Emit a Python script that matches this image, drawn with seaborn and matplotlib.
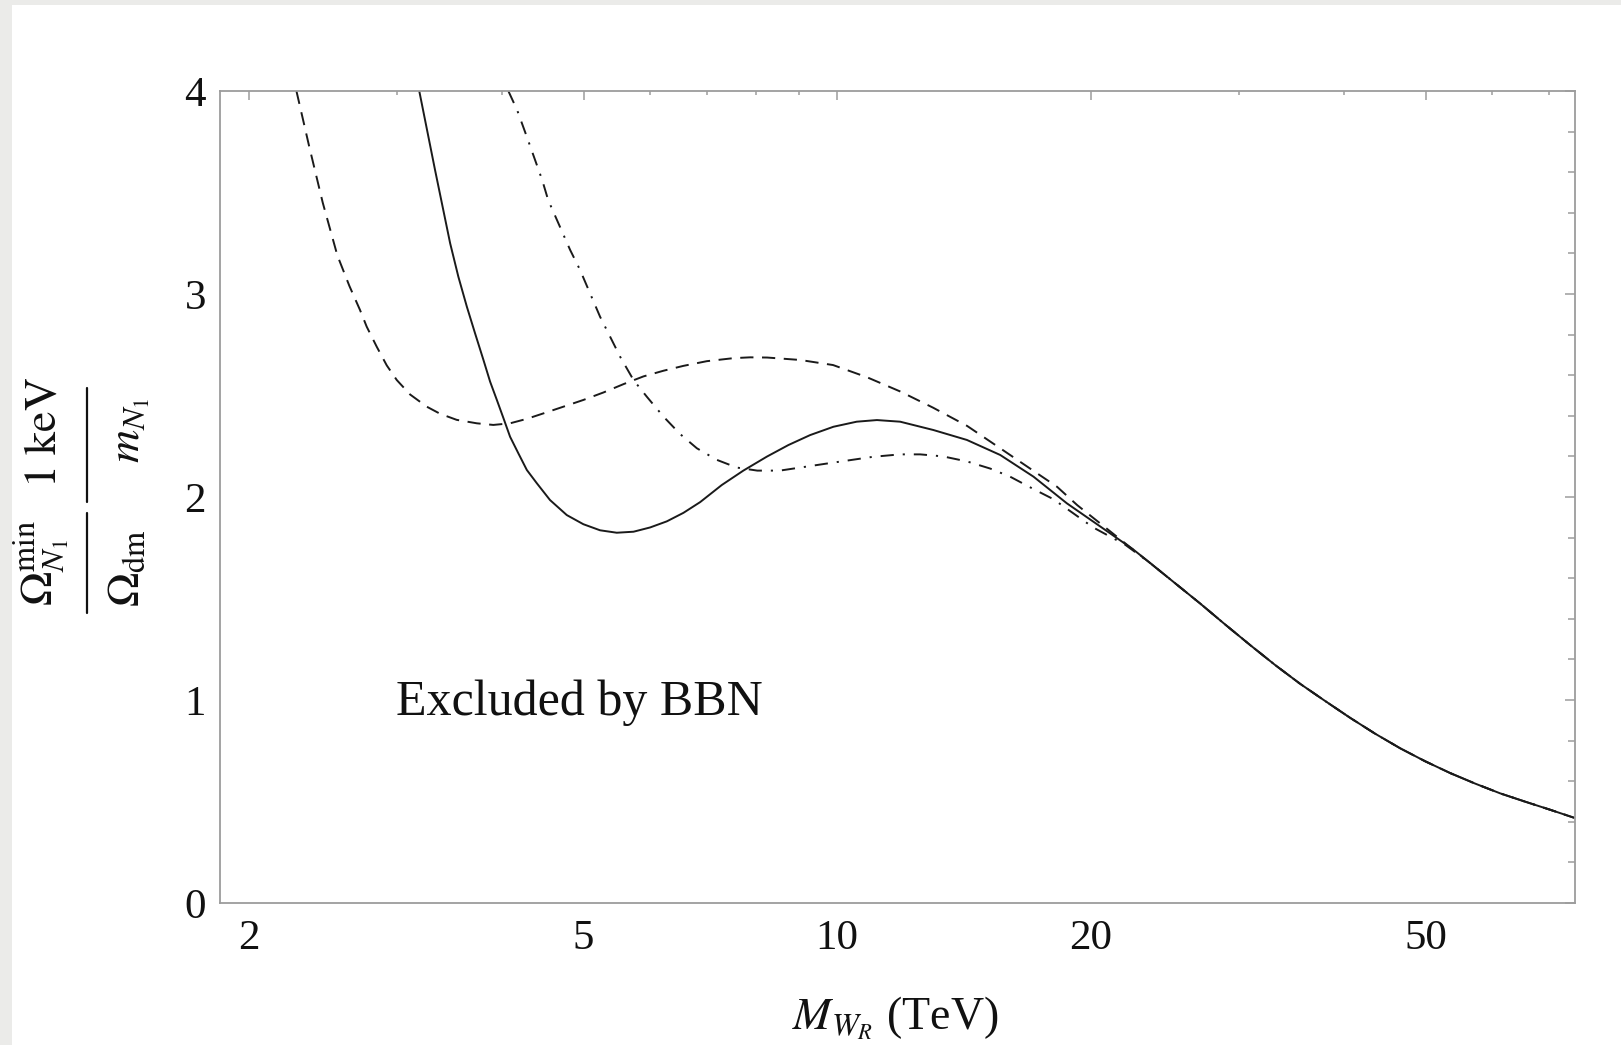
import numpy as np
import pandas as pd
import matplotlib
matplotlib.use("Agg")
import matplotlib.pyplot as plt
from matplotlib.patches import Rectangle
from matplotlib.lines import Line2D
from matplotlib.ticker import FixedLocator, NullFormatter, FixedFormatter
import seaborn as sns

# ---- data ----
solid_x = [3.19, 3.331, 3.471, 3.550, 3.633, 3.716, 3.802, 3.872, 3.944, 4.016, 4.089,
           4.183, 4.281, 4.399, 4.561, 4.775, 4.996, 5.230, 5.474, 5.731, 5.997, 6.277,
           6.569, 6.877, 7.295, 7.738, 8.253, 8.753, 9.288, 9.899, 10.55, 11.15, 11.88,
           13.01, 14.26, 15.62, 17.11, 18.74, 20.53, 22.48]
solid_y = [4.00, 3.61, 3.25, 3.085, 2.938, 2.806, 2.675, 2.568, 2.478, 2.388, 2.297,
           2.215, 2.133, 2.068, 1.985, 1.911, 1.866, 1.836, 1.824, 1.829, 1.850, 1.880,
           1.922, 1.975, 2.059, 2.130, 2.199, 2.256, 2.305, 2.346, 2.371, 2.379, 2.371,
           2.330, 2.281, 2.207, 2.100, 1.969, 1.855, 1.741]

dashed_x = [2.28, 2.36, 2.45, 2.55, 2.635, 2.713, 2.763, 2.840, 2.919, 3.000, 3.111,
            3.256, 3.377, 3.534, 3.734, 3.906, 4.089, 4.281, 4.480, 4.732, 4.996, 5.279,
            5.576, 5.888, 6.220, 6.569, 7.001, 7.533, 7.883, 8.26, 9.04, 9.89, 10.85,
            11.88, 13.0, 14.27, 15.62, 17.09, 18.25, 19.28, 20.53, 21.98]
dashed_y = [4.00, 3.73, 3.45, 3.19, 3.04, 2.921, 2.839, 2.740, 2.648, 2.576, 2.505,
            2.445, 2.410, 2.380, 2.363, 2.355, 2.363, 2.385, 2.412, 2.445, 2.478, 2.515,
            2.556, 2.594, 2.622, 2.646, 2.669, 2.684, 2.688, 2.687, 2.675, 2.65, 2.59,
            2.52, 2.44, 2.35, 2.24, 2.13, 2.05, 1.96, 1.87, 1.772]

dashdot_x = [4.07, 4.169, 4.282, 4.464, 4.538, 4.819, 4.952, 5.089, 5.230, 5.375, 5.525,
             5.731, 5.943, 6.220, 6.510, 6.815, 7.197, 7.601, 8.04, 8.55, 9.73, 11.03,
             11.88, 12.55, 13.36, 14.27, 15.2, 16.05, 17.09, 18.05, 19.07, 20.14, 21.98]
dashdot_y = [4.00, 3.906, 3.773, 3.562, 3.463, 3.217, 3.118, 3.003, 2.888, 2.790, 2.691,
             2.576, 2.494, 2.396, 2.310, 2.240, 2.183, 2.145, 2.13, 2.13, 2.165, 2.198,
             2.21, 2.21, 2.20, 2.175, 2.14, 2.10, 2.04, 1.99, 1.92, 1.85, 1.765]

# common tail where all three curves coincide
tail_x = [23.53, 25.20, 26.99, 28.89, 30.95, 33.13, 35.46, 37.98, 40.67, 43.54, 46.63,
          49.93, 53.46, 57.25, 61.3, 65.64, 70.3, 75.0]
tail_y = [1.675, 1.575, 1.475, 1.372, 1.27, 1.172, 1.08, 0.995, 0.912, 0.834, 0.762,
          0.698, 0.640, 0.588, 0.540, 0.499, 0.459, 0.42]

x_major = [2, 5, 10, 20, 50]
x_major_labels = ["2", "5", "10", "20", "50"]
x_minor = [3, 4, 6, 7, 8, 9, 30, 40, 60, 70]
y_major = [0, 1, 2, 3, 4]
y_minor = [0.2, 0.4, 0.6, 0.8, 1.2, 1.4, 1.6, 1.8, 2.2, 2.4, 2.6, 2.8, 3.2, 3.4, 3.6, 3.8]

# ---- style ----
sns.set_theme(style="white")
plt.rcParams["font.family"] = ["Liberation Serif", "DejaVu Serif"]
plt.rcParams["mathtext.fontset"] = "stix"

frames = []
for name, xs, ys in [("solid", solid_x, solid_y),
                     ("dashed", dashed_x, dashed_y),
                     ("dashdot", dashdot_x, dashdot_y)]:
    frames.append(pd.DataFrame({"x": list(xs) + tail_x, "y": list(ys) + tail_y, "curve": name}))
df = pd.concat(frames, ignore_index=True)

W, H = 1621, 1045
fig = plt.figure(figsize=(W / 100, H / 100), dpi=100)
fig.patch.set_facecolor("#ebebe9")
fig.patches.append(Rectangle((12 / W, 0), 1 - 12 / W, 1 - 5 / H,
                             transform=fig.transFigure, facecolor="white",
                             edgecolor="none", zorder=-10))

ax = fig.add_axes([220 / W, (H - 903) / H, (1575 - 220) / W, (903 - 91) / H])
ax.set_zorder(1)
ax.set_facecolor("white")

line_color = "#1a1a1a"
lw = 1.4
styles = {
    "solid": "-",
    "dashed": (0, (6.8, 4.4)),
    "dashdot": (0, (6.8, 4.6, 1.1, 4.6)),
}
for name, sub in df.groupby("curve", sort=False):
    sns.lineplot(data=sub, x="x", y="y", ax=ax, sort=False, estimator=None,
                 color=line_color, lw=lw, linestyle=styles[name], legend=False)

ax.set_xscale("log")
ax.set_xlim(1.85, 75.2)
ax.set_ylim(0, 4)

ax.xaxis.set_major_locator(FixedLocator(x_major))
ax.xaxis.set_major_formatter(FixedFormatter(x_major_labels))
ax.xaxis.set_minor_locator(FixedLocator(x_minor))
ax.xaxis.set_minor_formatter(NullFormatter())
ax.yaxis.set_major_locator(FixedLocator(y_major))
ax.yaxis.set_minor_locator(FixedLocator(y_minor))
ax.yaxis.set_minor_formatter(NullFormatter())

spine_color = "#9c9c9c"
for s in ax.spines.values():
    s.set_visible(True)
    s.set_color(spine_color)
    s.set_linewidth(1.3)

ax.tick_params(axis="both", which="both", direction="in", top=True, right=True,
               color=spine_color, width=1.1, labelcolor="#111111", labelsize=31)
ax.tick_params(axis="y", which="major", length=7.5, pad=10)
ax.tick_params(axis="y", which="minor", length=5)
ax.tick_params(axis="x", which="major", length=6.5, pad=12)
ax.tick_params(axis="x", which="minor", length=3)
ax.set_xlabel("")
ax.set_ylabel("")

ax.text(0.13, 0.2315, "Excluded by BBN", transform=ax.transAxes,
        fontsize=36, color="#111111", ha="left", va="baseline")

fig.text(895 / W, 1 - 1018 / H, r"$M_{W_R}$ (TeV)", fontsize=33,
         color="#111111", ha="center", va="center")

# y-axis label: two stacked fractions, rotated
def fpos(px, py):
    return px / W, 1 - py / H

lab_kw = dict(color="#111111", rotation=90, ha="center", va="center", fontsize=33)
fig.text(*fpos(42, 563), r"$\Omega_{N_1}^{\mathrm{min}}$", **lab_kw)
fig.text(*fpos(44, 432), r"$1\ \mathrm{keV}$", **lab_kw)
fig.text(*fpos(128, 568), r"$\Omega_{\mathrm{dm}}$", **lab_kw)
fig.text(*fpos(131, 430), r"$m_{N_1}$", **lab_kw)
for y0, y1 in [(513, 613), (388, 502)]:
    fig.lines.append(Line2D([87 / W, 87 / W], [1 - y0 / H, 1 - y1 / H],
                            transform=fig.transFigure, color="#111111", lw=1.6))

fig.savefig("out.png", dpi=100, facecolor=fig.get_facecolor())
